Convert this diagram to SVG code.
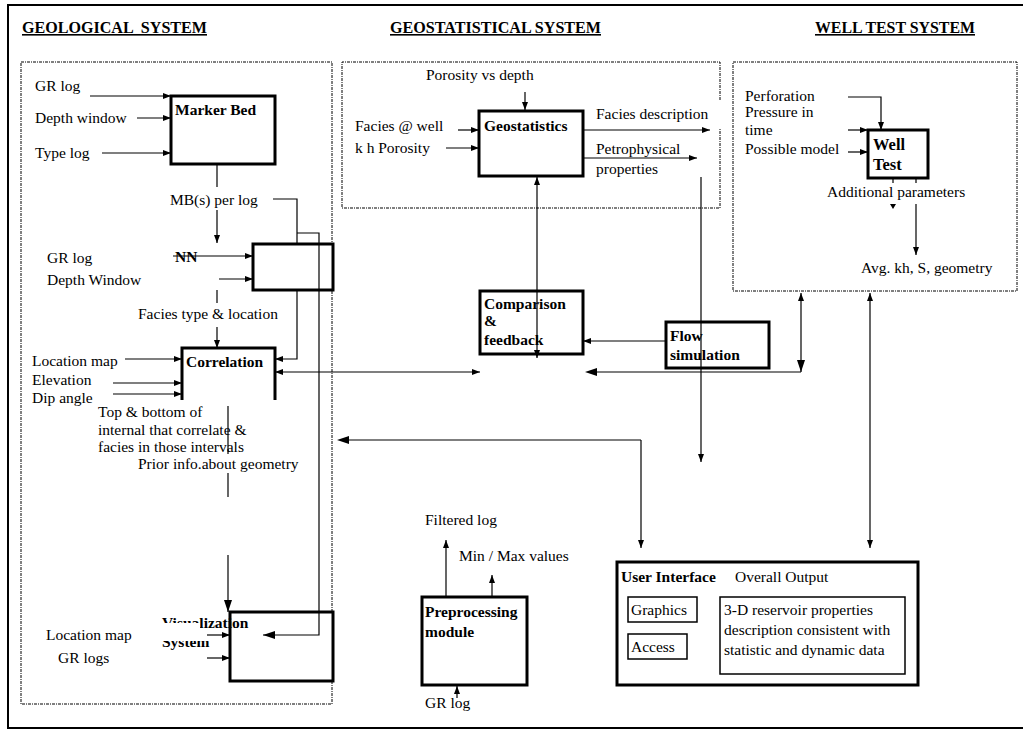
<svg xmlns="http://www.w3.org/2000/svg" width="1023" height="730" viewBox="0 0 1023 730">
<style>
.t{font-family:"Liberation Serif","Times New Roman",serif;font-size:15.5px;fill:#000}
.b{font-weight:bold}
.h{font-family:"Liberation Serif","Times New Roman",serif;font-size:16px;font-weight:bold;text-decoration:underline;fill:#000}
.box{fill:#fff;stroke:#000;stroke-width:3}
.thin{fill:#fff;stroke:#000;stroke-width:1.5}
.dot{fill:none;stroke:#000;stroke-width:1;stroke-dasharray:3 1 1 1}
.c{fill:none;stroke:#000;stroke-width:1.2}
.a{marker-end:url(#ah)}
.al{marker-end:url(#al)}
</style>
<defs>
<marker id="ah" viewBox="0 0 8 6" refX="8" refY="3" markerWidth="8" markerHeight="6" markerUnits="userSpaceOnUse" orient="auto-start-reverse"><path d="M0,0 L8,3 L0,6 z"/></marker>
<marker id="al" viewBox="0 0 12 8" refX="12" refY="4" markerWidth="12" markerHeight="8" markerUnits="userSpaceOnUse" orient="auto-start-reverse"><path d="M0,0 L12,4 L0,8 z"/></marker>
<clipPath id="cv"><rect x="150" y="600" width="200" height="23"/><rect x="200" y="600" width="100" height="60"/></clipPath>
<clipPath id="cs"><rect x="150" y="641" width="100" height="20"/></clipPath>
<clipPath id="cp"><rect x="730" y="107" width="150" height="20"/></clipPath>
</defs>
<rect x="0" y="0" width="1023" height="730" fill="#fff"/>
<rect x="8" y="5" width="1030" height="723" fill="none" stroke="#000" stroke-width="2"/>

<g id="titles">
<text class="h" x="22" y="33" xml:space="preserve" textLength="185" lengthAdjust="spacingAndGlyphs">GEOLOGICAL  SYSTEM</text>
<text class="h" x="390" y="33" textLength="211" lengthAdjust="spacingAndGlyphs">GEOSTATISTICAL SYSTEM</text>
<text class="h" x="815" y="33" textLength="160" lengthAdjust="spacingAndGlyphs">WELL TEST SYSTEM</text>
</g>

<g id="system-frames">
<rect class="dot" x="21" y="62" width="311" height="642"/>
<path class="dot" d="M720,100 V62 H342 V208 H720 V128"/>
<rect class="dot" x="733" y="62" width="284" height="229"/>
</g>

<g id="geological-inputs">
<text class="t" x="35" y="91">GR log</text>
<text class="t" x="35" y="123">Depth window</text>
<text class="t" x="35" y="158">Type log</text>
<text class="t" x="170" y="205">MB(s) per log</text>
<text class="t" x="47" y="263">GR log</text>
<text class="t" x="47" y="285">Depth Window</text>
<text class="t" x="138" y="319">Facies type &amp; location</text>
<text class="t" x="32" y="366">Location map</text>
<text class="t" x="32" y="385">Elevation</text>
<text class="t" x="32" y="403">Dip angle</text>
<text class="t" x="98" y="417">Top &amp; bottom of</text>
<text class="t" x="98" y="435">internal that correlate &amp;</text>
<text class="t" x="98" y="452">facies in those intervals</text>
<text class="t" x="138" y="469">Prior info.about geometry</text>
<text class="t" x="46" y="640">Location map</text>
<text class="t" x="58" y="663">GR logs</text>
</g>

<g id="marker-bed">
<rect class="box" x="171" y="96" width="104" height="68"/>
<text class="t b" x="175" y="115">Marker Bed</text>
</g>

<g id="nn">
<rect class="box" x="253" y="244" width="80" height="46"/>
<text class="t b" x="175" y="262">NN</text>
</g>

<g id="correlation">
<rect x="182" y="348" width="93" height="52" fill="#fff"/>
<path d="M182,400 V348 H275 V400" fill="none" stroke="#000" stroke-width="3"/>
<text class="t b" x="186" y="367">Correlation</text>
</g>

<g id="visualization">
<rect class="box" x="230" y="612" width="103" height="69"/>
<text class="t b" x="162" y="628" clip-path="url(#cv)">Visualization</text>
<text class="t b" x="162" y="647" clip-path="url(#cs)">System</text>
</g>

<g id="geostatistics">
<text class="t" x="426" y="80">Porosity vs depth</text>
<text class="t" x="355" y="131">Facies @ well</text>
<text class="t" x="355" y="153">k h Porosity</text>
<text class="t" x="596" y="119">Facies description</text>
<text class="t" x="596" y="154">Petrophysical</text>
<text class="t" x="596" y="174">properties</text>
<rect class="box" x="479" y="111" width="104" height="65"/>
<text class="t b" x="484" y="131">Geostatistics</text>
</g>

<g id="well-test">
<text class="t" x="745" y="101">Perforation</text>
<text class="t" x="745" y="117" clip-path="url(#cp)">Pressure in</text>
<text class="t" x="745" y="135">time</text>
<text class="t" x="745" y="154">Possible model</text>
<rect class="box" x="868" y="130" width="60" height="48"/>
<text class="t b" x="873" y="150" style="font-size:16.5px">Well</text>
<text class="t b" x="873" y="170" style="font-size:16.5px">Test</text>
<text class="t" x="827" y="197">Additional parameters</text>
<text class="t" x="861" y="273">Avg. kh, S, geometry</text>
</g>

<g id="comparison">
<rect class="box" x="480" y="291" width="103" height="63"/>
<text class="t b" x="484" y="309">Comparison</text>
<text class="t b" x="484" y="326">&amp;</text>
<text class="t b" x="484" y="345">feedback</text>
</g>

<g id="flow-simulation">
<rect class="box" x="666" y="322" width="103" height="46"/>
<text class="t b" x="670" y="341">Flow</text>
<text class="t b" x="670" y="360">simulation</text>
</g>

<g id="preprocessing">
<text class="t" x="425" y="525">Filtered log</text>
<text class="t" x="459" y="561">Min / Max values</text>
<rect class="box" x="422" y="597" width="105" height="88"/>
<text class="t b" x="425" y="617">Preprocessing</text>
<text class="t b" x="425" y="637">module</text>
<text class="t" x="425" y="708">GR log</text>
</g>

<g id="user-interface">
<rect class="box" x="617" y="562" width="301" height="123"/>
<text class="t b" x="621" y="582">User Interface</text>
<text class="t" x="735" y="582">Overall Output</text>
<rect class="thin" x="628" y="597" width="69" height="25"/>
<text class="t" x="631" y="615">Graphics</text>
<rect class="thin" x="628" y="634" width="59" height="25"/>
<text class="t" x="631" y="652">Access</text>
<rect class="thin" x="720" y="597" width="185" height="77"/>
<text class="t" x="724" y="615">3-D reservoir properties</text>
<text class="t" x="724" y="635">description consistent with</text>
<text class="t" x="724" y="655">statistic and dynamic data</text>
</g>

<g id="connectors">
<path class="c a" d="M90,96 H171"/>
<path class="c a" d="M137,118 H171"/>
<path class="c a" d="M102,153 H171"/>
<path class="c" d="M217,164 V187"/>
<path class="c a" d="M217,210 V243"/>
<path class="c" d="M273,199 H297 V244"/>
<path class="c al" d="M297,233 H319 V635 H263"/>
<path class="c a" d="M173,256 H253"/>
<path class="c a" d="M219,279 H253"/>
<path class="c" d="M217,290 V303"/>
<path class="c a" d="M217,327 V348"/>
<path class="c a" d="M297,290 V359 H275"/>
<path class="c a" d="M125,359 H182"/>
<path class="c a" d="M113,383 H182"/>
<path class="c a" d="M113,394 H182"/>
<path class="c" d="M228,406 V454"/>
<path class="c" d="M228,473 V497"/>
<path class="c al" d="M228,555 V612"/>
<path class="c a" d="M207,635 H230"/>
<path class="c a" d="M207,658 H230"/>
<path class="c a" d="M275,372 H480" style="marker-start:url(#ah)"/>
<path class="c a" d="M525,92 V110"/>
<path class="c a" d="M458,130 H479"/>
<path class="c a" d="M446,148 H479"/>
<path class="c a" d="M583,130 H710"/>
<path class="c a" d="M583,158 H697"/>
<path class="c a" d="M537,177 V358" style="marker-start:url(#ah)"/>
<path class="c a" d="M701,177 V462"/>
<path class="c a" d="M848,97 H881 V130"/>
<path class="c a" d="M848,130 H868"/>
<path class="c a" d="M848,152 H868"/>
<path class="c" d="M893,178 V183 M916,178 V183"/>
<path d="M890,204 L896,204 L893,209 z"/>
<path class="c a" d="M916,204 V255"/>
<path class="c a" d="M666,341 H583"/>
<path class="c a" d="M801,372 V293" style="marker-start:url(#al)" transform=""/>
<path class="c" d="M801,372 H597"/>
<path d="M585,372 L597,368 L597,376 z"/>
<path class="c a" d="M870,548 V293" style="marker-start:url(#ah)"/>
<path class="c a" d="M641,440 V548"/>
<path class="c" d="M641,440 H349"/>
<path d="M337,440 L349,436 L349,444 z"/>
<path class="c a" d="M446,597 V540"/>
<path class="c a" d="M492,597 V575"/>
<path class="c a" d="M457,698 V686"/>
</g>
</svg>
